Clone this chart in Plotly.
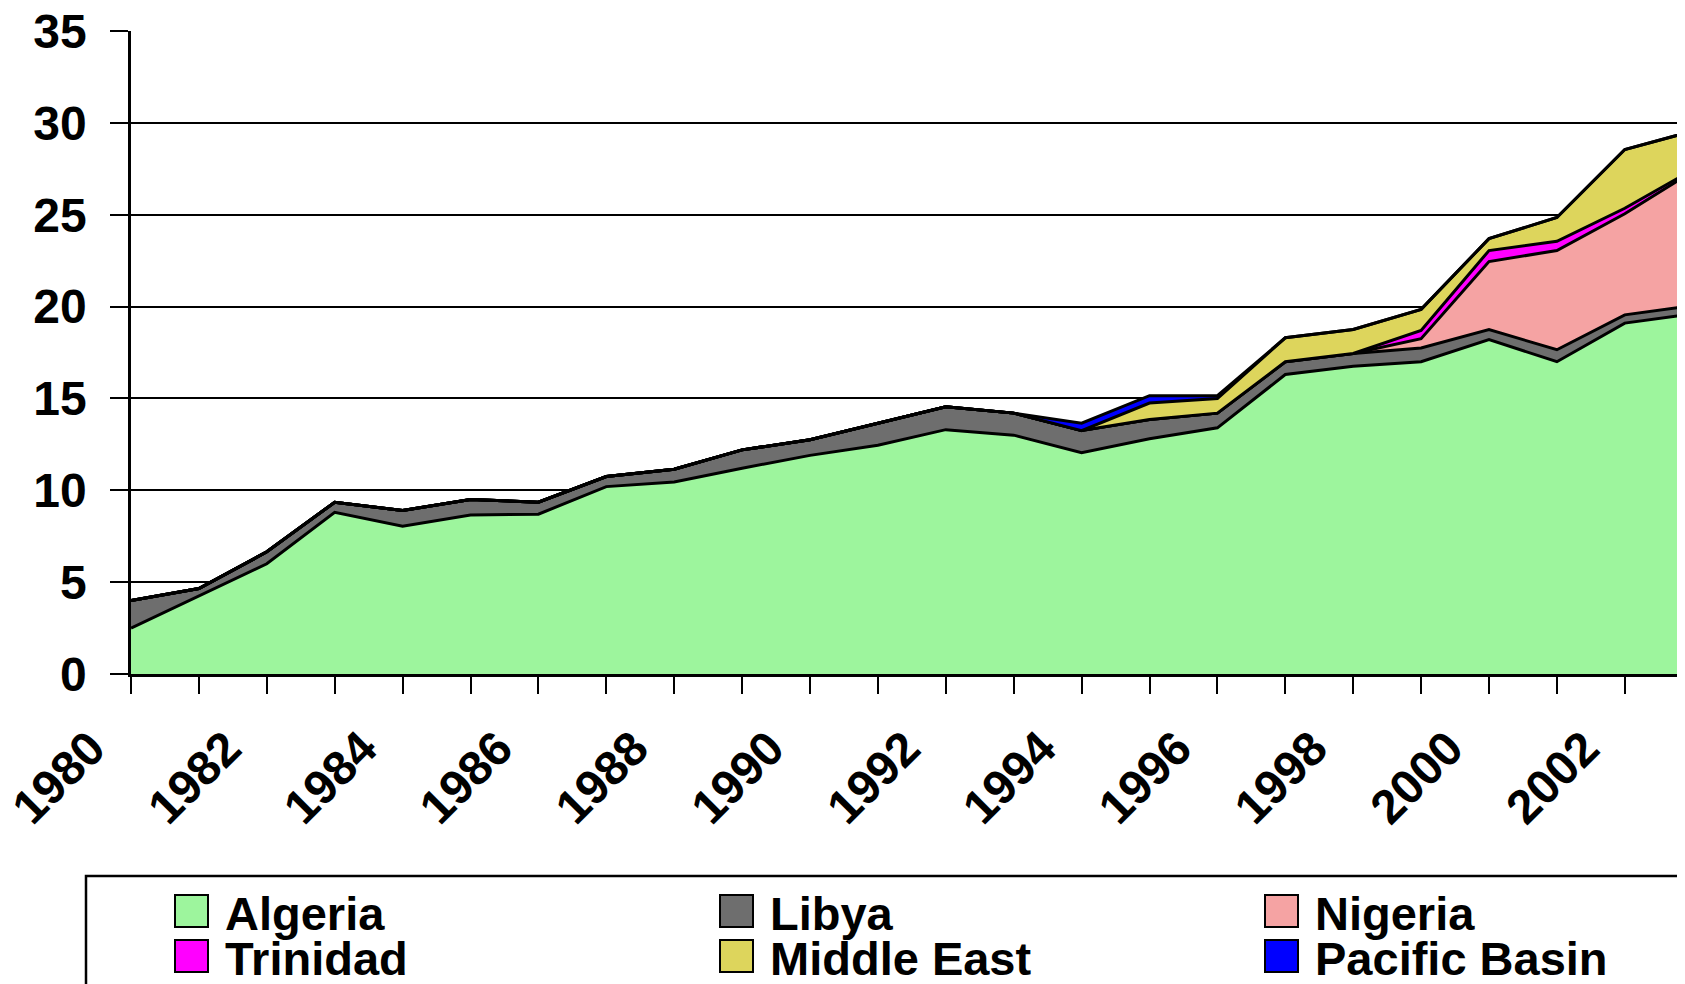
import plotly.graph_objects as go

# LNG imports by source, stacked
years = list(range(1980, 2004))
algeria = [2.5, 4.25, 6.0, 8.8, 8.05, 8.65, 8.7, 10.2, 10.45, 11.2, 11.9, 12.45,
           13.3, 13.0, 12.05, 12.8, 13.4, 16.3, 16.75, 17.0, 18.2, 17.0, 19.1, 19.6]
libya = [1.5, 0.4, 0.65, 0.55, 0.85, 0.85, 0.65, 0.55, 0.7, 1.0, 0.85, 1.2,
         1.25, 1.2, 1.2, 1.05, 0.8, 0.7, 0.7, 0.75, 0.55, 0.65, 0.45, 0.45]
nigeria = [0, 0, 0, 0, 0, 0, 0, 0, 0, 0, 0, 0,
           0, 0, 0, 0, 0, 0, 0, 0.5, 3.7, 5.4, 5.5, 7.3]
trinidad = [0, 0, 0, 0, 0, 0, 0, 0, 0, 0, 0, 0,
            0, 0, 0, 0, 0, 0, 0, 0.45, 0.6, 0.5, 0.3, 0.1]
middle_east = [0, 0, 0, 0, 0, 0, 0, 0, 0, 0, 0, 0,
               0, 0, 0, 0.9, 0.8, 1.3, 1.3, 1.15, 0.65, 1.3, 3.2, 2.1]
pacific_basin = [0, 0, 0, 0, 0, 0, 0, 0, 0, 0, 0, 0,
                 0, 0, 0.4, 0.4, 0.15, 0, 0, 0, 0, 0, 0, 0]

names = ["Algeria", "Libya", "Nigeria", "Trinidad", "Middle East", "Pacific Basin"]
series = [algeria, libya, nigeria, trinidad, middle_east, pacific_basin]
colors = ["#9df59d", "#6e6e6e", "#f5a3a3", "#ff00ff", "#ddd55c", "#0000ff"]

tick_years = list(range(1980, 2003))
tick_labels = ["1980", "", "1982", "", "1984", "", "1986", "", "1988", "", "1990", "",
               "1992", "", "1994", "", "1996", "", "1998", "", "2000", "", "2002"]

# the page body adds an 8px margin, so the figure is sized to fit inside it
OFF = 8
W, H = 1669, 976
L, R, T, B = 123, 0, 23, 310
pw, ph = W - L - R, H - T - B
year_px = 67.9  # pixel width of one year on the x axis

# page pixel -> paper coordinates
def px_x(x):
    return (x - OFF - L) / pw

def px_y(y):
    return (H - B - (y - OFF)) / ph

fig = go.Figure()
for name, vals, col in zip(names, series, colors):
    fig.add_trace(go.Scatter(x=years, y=vals, name=name, stackgroup="one",
                             mode="lines", fillcolor=col,
                             line=dict(color="black", width=3),
                             showlegend=False))

tickfont = dict(family="Liberation Sans", size=48, color="black", weight="bold")
fig.update_xaxes(range=[1980, 1980 + pw / year_px], tickvals=tick_years, ticktext=tick_labels,
                 tickangle=-45, ticks="outside", ticklen=17, tickwidth=2, tickcolor="black",
                 showline=True, linecolor="black", linewidth=2.5, showgrid=False,
                 zeroline=False, tickfont=tickfont, automargin=False,
                 ticklabeloverflow="allow", ticklabelshift=-40, ticklabelstandoff=7)
fig.update_yaxes(range=[0, 35], dtick=5, ticks="outside", ticklen=18, tickwidth=2,
                 tickcolor="black", showline=True, linecolor="black", linewidth=2.5,
                 showgrid=True, gridcolor="black", gridwidth=2, zeroline=False,
                 tickfont=tickfont, automargin=False, ticklabeloverflow="allow",
                 ticklabelstandoff=14)

# legend box and entries, three columns by two rows
fig.add_shape(type="rect", xref="paper", yref="paper",
              x0=px_x(86), x1=px_x(1700), y0=px_y(1000), y1=px_y(876),
              line=dict(color="black", width=2.5), fillcolor="rgba(0,0,0,0)")
col_x = [175, 720, 1265]
row_y = [911, 956]
for i, (name, col) in enumerate(zip(names, colors)):
    cx = col_x[i % 3]
    cy = row_y[i // 3]
    fig.add_shape(type="rect", xref="paper", yref="paper",
                  x0=px_x(cx), x1=px_x(cx + 33), y0=px_y(cy + 16), y1=px_y(cy - 16),
                  line=dict(color="black", width=2), fillcolor=col)
    fig.add_annotation(xref="paper", yref="paper", x=px_x(cx + 48), y=px_y(cy + 2),
                       text=name, showarrow=False, xanchor="left", yanchor="middle",
                       font=dict(family="Liberation Sans", size=47, color="black",
                                 weight="bold"))

fig.update_layout(width=W, height=H, margin=dict(l=L, r=R, t=T, b=B, autoexpand=False),
                  plot_bgcolor="white", paper_bgcolor="white")

fig.write_html("out.html")
